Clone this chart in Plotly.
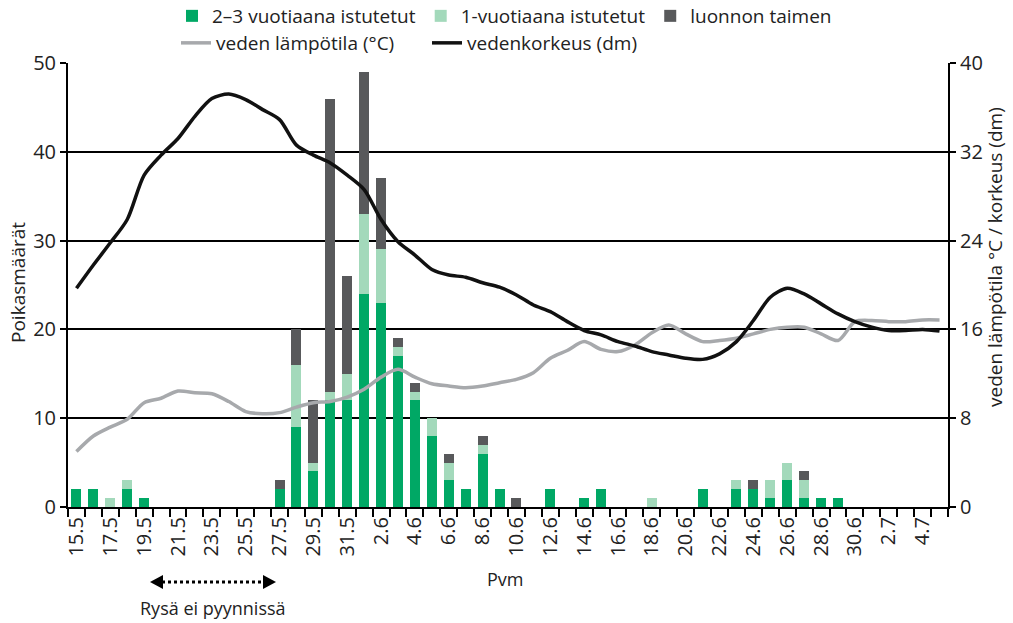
import plotly.graph_objects as go

# ---- data ----
dates = ["15.5", "16.5", "17.5", "18.5", "19.5", "20.5", "21.5", "22.5", "23.5", "24.5",
         "25.5", "26.5", "27.5", "28.5", "29.5", "30.5", "31.5",
         "1.6", "2.6", "3.6", "4.6", "5.6", "6.6", "7.6", "8.6", "9.6", "10.6",
         "11.6", "12.6", "13.6", "14.6", "15.6", "16.6", "17.6", "18.6", "19.6", "20.6",
         "21.6", "22.6", "23.6", "24.6", "25.6", "26.6", "27.6", "28.6", "29.6", "30.6",
         "1.7", "2.7", "3.7", "4.7", "5.7"]

tick_labels = ["15.5", "17.5", "19.5", "21.5", "23.5", "25.5", "27.5", "29.5", "31.5",
               "2.6", "4.6", "6.6", "8.6", "10.6", "12.6", "14.6", "16.6", "18.6",
               "20.6", "22.6", "24.6", "26.6", "28.6", "30.6", "2.7", "4.7"]

stocked_2_3 = [2, 2, 0, 2, 1, 0, 0, 0, 0, 0, 0, 0, 2, 9, 4, 12, 12,
               24, 23, 17, 12, 8, 3, 2, 6, 2, 0, 0, 2, 0, 1, 2, 0, 0, 0, 0, 0,
               2, 0, 2, 2, 1, 3, 1, 1, 1, 0, 0, 0, 0, 0, 0]
stocked_1 = [0, 0, 1, 1, 0, 0, 0, 0, 0, 0, 0, 0, 0, 7, 1, 1, 3,
             9, 6, 1, 1, 2, 2, 0, 1, 0, 0, 0, 0, 0, 0, 0, 0, 0, 1, 0, 0,
             0, 0, 1, 0, 2, 2, 2, 0, 0, 0, 0, 0, 0, 0, 0]
wild = [0, 0, 0, 0, 0, 0, 0, 0, 0, 0, 0, 0, 1, 4, 7, 33, 11,
        16, 8, 1, 1, 0, 1, 0, 1, 0, 1, 0, 0, 0, 0, 0, 0, 0, 0, 0, 0,
        0, 0, 0, 1, 0, 0, 1, 0, 0, 0, 0, 0, 0, 0, 0]

water_temp = [5.0, 6.4, 7.2, 7.9, 9.4, 9.8, 10.45, 10.3, 10.2, 9.5, 8.6, 8.4, 8.5, 9.0, 9.4, 9.5, 9.9,
              10.6, 11.7, 12.4, 11.7, 11.1, 10.9, 10.75, 10.9, 11.2, 11.5, 12.1, 13.4, 14.1, 14.9, 14.2,
              14.0, 14.6, 15.7, 16.4, 15.6, 14.9, 15.0, 15.2, 15.6, 16.0, 16.2, 16.2, 15.6, 15.0, 16.7,
              16.8, 16.7, 16.7, 16.85, 16.85]
water_level = [19.7, 21.8, 23.8, 25.9, 29.9, 31.7, 33.2, 35.2, 36.8, 37.2, 36.7, 35.8, 34.9, 32.6, 31.7, 31.0, 29.9,
               28.6, 25.9, 23.9, 22.7, 21.4, 20.9, 20.7, 20.2, 19.8, 19.1, 18.2, 17.6, 16.7, 15.9, 15.5,
               14.9, 14.5, 14.0, 13.7, 13.4, 13.3, 13.8, 14.9, 16.8, 18.9, 19.7, 19.2, 18.3, 17.4, 16.7,
               16.2, 15.9, 15.9, 16.0, 15.85]

# ---- style ----
FONT = "Open Sans"
TXT = "#222222"
C_GREEN = "#00a865"
C_LIGHT = "#a3d9bb"
C_DARK = "#58595b"
C_TEMP = "#a7a9ac"
C_LEVEL = "#111111"

fig = go.Figure()
fig.add_trace(go.Bar(x=dates, y=stocked_2_3, name="2–3 vuotiaana istutetut",
                     marker=dict(color=C_GREEN, line=dict(width=0)), legend="legend"))
fig.add_trace(go.Bar(x=dates, y=stocked_1, name="1-vuotiaana istutetut",
                     marker=dict(color=C_LIGHT, line=dict(width=0)), legend="legend"))
fig.add_trace(go.Bar(x=dates, y=wild, name="luonnon taimen",
                     marker=dict(color=C_DARK, line=dict(width=0)), legend="legend"))
fig.add_trace(go.Scatter(x=dates, y=water_temp, name="veden lämpötila (°C)", yaxis="y2",
                         mode="lines", line=dict(color=C_TEMP, width=3.5, shape="spline", smoothing=0.8),
                         legend="legend2"))
fig.add_trace(go.Scatter(x=dates, y=water_level, name="vedenkorkeus (dm)", yaxis="y2",
                         mode="lines", line=dict(color=C_LEVEL, width=3.5, shape="spline", smoothing=0.8),
                         legend="legend2"))

tickvals = dates
ticktext = [d if d in tick_labels else "" for d in dates]

L, R, T, B = 68, 65, 63, 116
W, H = 1013, 623
pw, ph = W - L - R, H - T - B


def px(x):
    return (x - L) / pw


def py(y):
    return (H - B - y) / ph


fig.update_layout(
    width=W, height=H,
    margin=dict(l=L, r=R, t=T, b=B, autoexpand=False),
    paper_bgcolor="white", plot_bgcolor="white",
    font=dict(family=FONT, size=18, color=TXT),
    barmode="stack", bargap=0.41,
    showlegend=True,
    xaxis=dict(type="category", categoryorder="array", categoryarray=dates,
               tickmode="array", tickvals=tickvals, ticktext=ticktext, tickangle=-90,
               tickson="boundaries", ticks="outside", ticklen=8, tickwidth=2, tickcolor="black",
               showline=True, linecolor="black", linewidth=2, showgrid=False, automargin=False,
               range=[-0.5, len(dates) - 0.5], tickfont=dict(size=20, color=TXT)),
    yaxis=dict(range=[0, 50], dtick=10, showgrid=True, gridcolor="black", gridwidth=2,
               showline=True, linecolor="black", linewidth=2, ticks="outside", ticklen=6,
               tickwidth=2, tickcolor="black", zeroline=False, automargin=False,
               tickfont=dict(size=20, color=TXT)),
    yaxis2=dict(range=[0, 40], tickvals=[0, 8, 16, 24, 32, 40], overlaying="y", side="right",
                showgrid=False, showline=True, linecolor="black", linewidth=2, ticks="outside",
                ticklen=6, tickwidth=2, tickcolor="black", zeroline=False, automargin=False,
                tickfont=dict(size=20, color=TXT)),
    legend=dict(orientation="h", x=px(172), y=py(16), xanchor="left", yanchor="middle",
                font=dict(size=19, color=TXT), itemwidth=30, traceorder="normal",
                bgcolor="rgba(0,0,0,0)"),
    legend2=dict(orientation="h", x=px(176), y=py(43), xanchor="left", yanchor="middle",
                 font=dict(size=19, color=TXT), itemwidth=30, entrywidth=206,
                 bgcolor="rgba(0,0,0,0)"),
)

annotations = [
    dict(text="Pvm", x=px(505), y=py(579), xref="paper", yref="paper", showarrow=False,
         xanchor="center", yanchor="middle", font=dict(size=18, color=TXT)),
    dict(text="Rysä ei pyynnissä", x=px(213), y=py(608), xref="paper", yref="paper",
         xanchor="center", yanchor="middle", showarrow=False, font=dict(size=18, color=TXT)),
    dict(text="Poikasmäärät", x=px(18), y=py(283), xref="paper", yref="paper", showarrow=False,
         xanchor="center", yanchor="middle", textangle=-90, font=dict(size=19, color=TXT)),
    dict(text="veden lämpötila °C / korkeus (dm)", x=px(995), y=py(257), xref="paper",
         yref="paper", showarrow=False, xanchor="center", yanchor="middle", textangle=-90,
         font=dict(size=19, color=TXT)),
]
fig.update_layout(annotations=annotations)

# dotted double arrow (decoration)
ay = py(582)
hh = 7 / ph
fig.add_shape(type="line", xref="paper", yref="paper", x0=px(162), x1=px(264), y0=ay, y1=ay,
              line=dict(color="black", width=3, dash="dot"))
fig.add_shape(type="path", xref="paper", yref="paper",
              path=f"M {px(150)} {ay} L {px(163)} {ay + hh} L {px(163)} {ay - hh} Z",
              fillcolor="black", line=dict(width=0))
fig.add_shape(type="path", xref="paper", yref="paper",
              path=f"M {px(276)} {ay} L {px(263)} {ay + hh} L {px(263)} {ay - hh} Z",
              fillcolor="black", line=dict(width=0))

fig.write_html("out.html", config={"displayModeBar": False},
               post_script="document.body.style.margin='0';")
